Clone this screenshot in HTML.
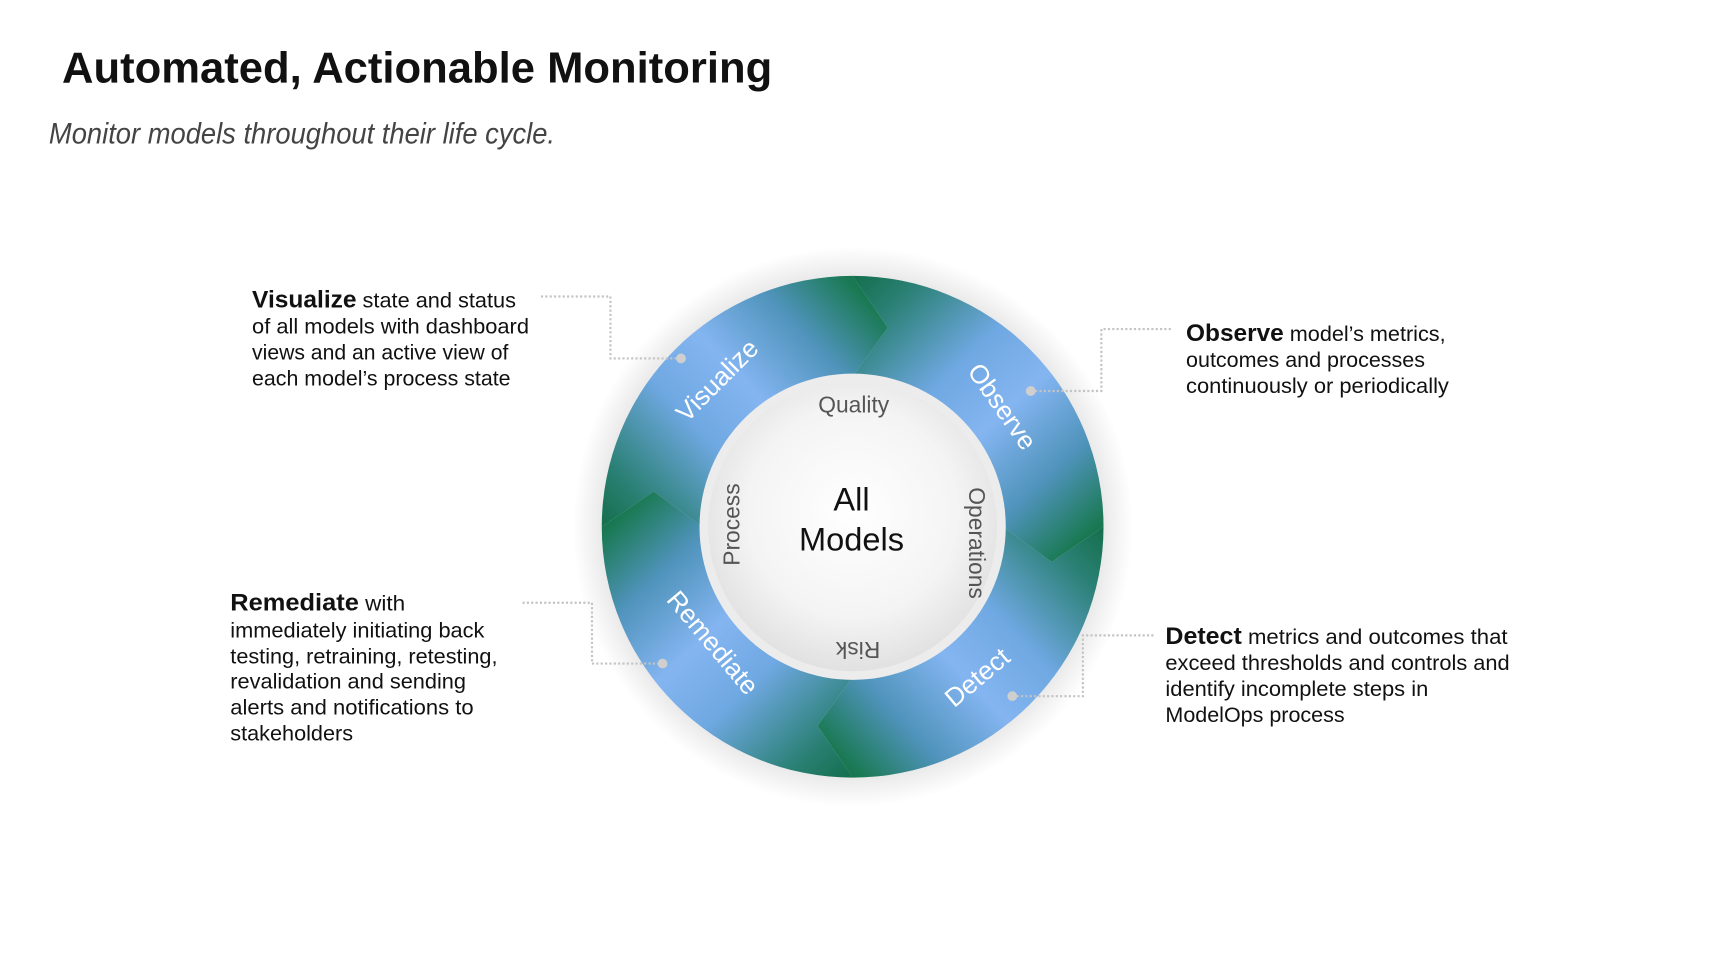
<!DOCTYPE html>
<html><head><meta charset="utf-8"><style>
html,body{margin:0;padding:0;background:#fff;width:1727px;height:964px;overflow:hidden}
svg{display:block}
text{font-family:"Liberation Sans",sans-serif}
</style></head><body>
<svg width="1727" height="964" viewBox="0 0 1590 887.6" xmlns="http://www.w3.org/2000/svg">
<defs>
<linearGradient id="g" gradientUnits="userSpaceOnUse" x1="-225" y1="20" x2="35" y2="-225">
<stop offset="0" stop-color="#0f6b43"/>
<stop offset="0.15" stop-color="#2a8074"/>
<stop offset="0.38" stop-color="#6fa8e2"/>
<stop offset="0.55" stop-color="#84b5f1"/>
<stop offset="0.75" stop-color="#4f93bb"/>
<stop offset="0.92" stop-color="#1b7a55"/>
<stop offset="1" stop-color="#0c6a40"/>
</linearGradient>
<radialGradient id="disk" cx="0.5" cy="0.45" r="0.6">
<stop offset="0" stop-color="#ffffff"/>
<stop offset="0.6" stop-color="#f4f4f4"/>
<stop offset="1" stop-color="#dcdcdc"/>
</radialGradient>
<radialGradient id="sh" cx="0.5" cy="0.5" r="0.5">
<stop offset="0.85" stop-color="#000" stop-opacity="0.12"/>
<stop offset="1" stop-color="#000" stop-opacity="0"/>
</radialGradient>
</defs>

<text x="57" y="76" font-size="40" font-weight="bold" fill="#111" textLength="654" lengthAdjust="spacingAndGlyphs">Automated, Actionable Monitoring</text>
<text x="45" y="132" font-size="27" font-style="italic" fill="#444" textLength="466" lengthAdjust="spacingAndGlyphs">Monitor models throughout their life cycle.</text>

<circle cx="785" cy="485" r="258" fill="url(#sh)"/>

<g transform="translate(785,485)">
<g id="seg"><path d="M-231,0 A231,231 0 0 1 0,-231 L32.3,-183.2 L0,-138 A138,138 0 0 0 -138,0 L-183.2,-32.3 Z" fill="url(#g)"/></g>
<use href="#seg" transform="rotate(90)"/>
<use href="#seg" transform="rotate(180)"/>
<use href="#seg" transform="rotate(270)"/>
<circle r="141" fill="#ececec"/>
<circle r="133" fill="url(#disk)"/>
</g>

<g fill="#fff" font-size="24">
<text transform="translate(666,356) rotate(-45)" text-anchor="middle">Visualize</text>
<text transform="translate(916,379) rotate(55)" text-anchor="middle">Observe</text>
<text transform="translate(905,630) rotate(-40)" text-anchor="middle">Detect</text>
<text transform="translate(650,597) rotate(50)" text-anchor="middle">Remediate</text>
</g>
<g fill="#555" font-size="21">
<text x="786" y="380" text-anchor="middle">Quality</text>
<text transform="translate(892,500) rotate(90)" text-anchor="middle">Operations</text>
<text transform="translate(681,483) rotate(-90)" text-anchor="middle">Process</text>
<text transform="translate(790,591) rotate(180)" text-anchor="middle">Risk</text>
</g>
<text x="784" y="470" font-size="30" text-anchor="middle" fill="#111">All</text>
<text x="784" y="507" font-size="30" text-anchor="middle" fill="#111">Models</text>

<g fill="none" stroke="#c4c4c4" stroke-width="2" stroke-dasharray="2 2">
<path d="M498,273 H562 V330 H627"/>
<path d="M949,360 H1014 V303 H1078"/>
<path d="M481,555 H545 V611 H610"/>
<path d="M932,641 H997 V585 H1062"/>
</g>
<g fill="#cfcfcf">
<circle cx="627" cy="330" r="4.5"/><circle cx="949" cy="360" r="4.5"/>
<circle cx="610" cy="611" r="4.5"/><circle cx="932" cy="641" r="4.5"/>
</g>

<g font-size="19.5" fill="#111">
<text x="232" y="283" textLength="243" lengthAdjust="spacingAndGlyphs"><tspan font-weight="bold" font-size="22">Visualize</tspan> state and status</text>
<text x="232" y="307" textLength="255" lengthAdjust="spacingAndGlyphs">of all models with dashboard</text>
<text x="232" y="331" textLength="236" lengthAdjust="spacingAndGlyphs">views and an active view of</text>
<text x="232" y="355" textLength="238" lengthAdjust="spacingAndGlyphs">each model’s process state</text>

<text x="1092" y="314" textLength="239" lengthAdjust="spacingAndGlyphs"><tspan font-weight="bold" font-size="22">Observe</tspan> model’s metrics,</text>
<text x="1092" y="338" textLength="220" lengthAdjust="spacingAndGlyphs">outcomes and processes</text>
<text x="1092" y="362" textLength="242" lengthAdjust="spacingAndGlyphs">continuously or periodically</text>

<text x="212" y="562" textLength="161" lengthAdjust="spacingAndGlyphs"><tspan font-weight="bold" font-size="22">Remediate</tspan> with</text>
<text x="212" y="587" textLength="234" lengthAdjust="spacingAndGlyphs">immediately initiating back</text>
<text x="212" y="611" textLength="246" lengthAdjust="spacingAndGlyphs">testing, retraining, retesting,</text>
<text x="212" y="634" textLength="217" lengthAdjust="spacingAndGlyphs">revalidation and sending</text>
<text x="212" y="658" textLength="224" lengthAdjust="spacingAndGlyphs">alerts and notifications to</text>
<text x="212" y="682" textLength="113" lengthAdjust="spacingAndGlyphs">stakeholders</text>

<text x="1073" y="593" textLength="315" lengthAdjust="spacingAndGlyphs"><tspan font-weight="bold" font-size="22">Detect</tspan> metrics and outcomes that</text>
<text x="1073" y="617" textLength="317" lengthAdjust="spacingAndGlyphs">exceed thresholds and controls and</text>
<text x="1073" y="641" textLength="242" lengthAdjust="spacingAndGlyphs">identify incomplete steps in</text>
<text x="1073" y="665" textLength="165" lengthAdjust="spacingAndGlyphs">ModelOps process</text>
</g>
</svg>
</body></html>
